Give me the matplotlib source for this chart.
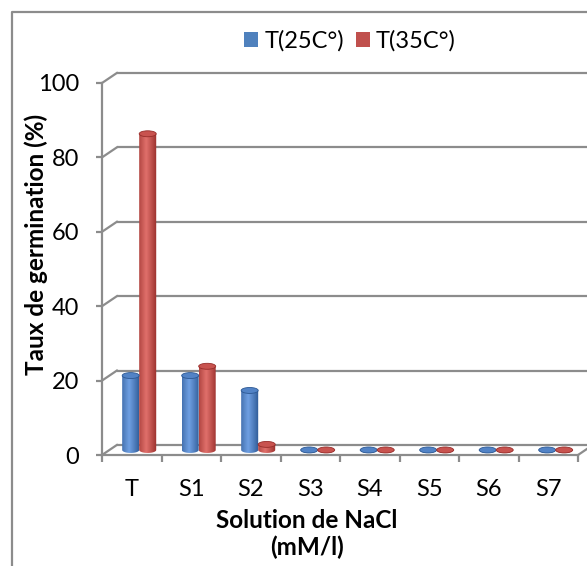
import matplotlib
matplotlib.use("Agg")
import matplotlib.pyplot as plt
import numpy as np
from matplotlib.patches import Ellipse, Polygon, Patch
from matplotlib.lines import Line2D
from matplotlib.colors import to_rgb

plt.rcParams['font.family'] = ['Lato', 'DejaVu Sans']

categories = ['T', 'S1', 'S2', 'S3', 'S4', 'S5', 'S6', 'S7']
t25 = [20, 20, 16, 0, 0, 0, 0, 0]
t35 = [85, 22.5, 1.5, 0, 0, 0, 0, 0]
series_names = ['T(25C°)', 'T(35C°)']
yticks = [0, 20, 40, 60, 80, 100]

W, H = 587, 566
fig = plt.figure(figsize=(W / 100, H / 100), dpi=100)
# front plot frame in pixels: x 102..578, y 455..83
ax = fig.add_axes([102 / W, (H - 455) / H, 476 / W, 372 / H])

grey = '#8c8c8c'
dx, dy = 0.25, 2.7          # depth offset of the back wall (data units)
bw = 0.286                  # cylinder width
eh = 1.6                    # ellipse height

# back wall gridlines + side wall diagonals
for v in yticks:
    ax.plot([dx, len(categories) + dx], [v + dy, v + dy], color=grey, lw=1.6,
            clip_on=False, zorder=1, solid_capstyle='butt')
    ax.plot([0, dx], [v, v + dy], color=grey, lw=1.6, clip_on=False, zorder=1)
ax.plot([len(categories), len(categories) + dx], [0, dy], color=grey, lw=1.6,
        clip_on=False, zorder=1)


def grad(dark, light, n=48):
    dark, light = np.array(to_rgb(dark)), np.array(to_rgb(light))
    t = np.linspace(0, 1, n)
    k = np.clip(1 - np.abs(t - 0.4) / 0.6, 0, 1) ** 0.9
    return (dark + (light - dark) * k[:, None])[None, :, :]


def cylinder(xc, h, dark, light, top):
    base = dy / 2
    xl, xr = xc - bw / 2, xc + bw / 2
    y1 = base + h
    th = np.linspace(np.pi, 2 * np.pi, 40)
    verts = [(xl, y1)] + list(zip(xc + bw / 2 * np.cos(th), base + eh / 2 * np.sin(th))) + [(xr, y1)]
    im = ax.imshow(grad(dark, light), extent=[xl, xr, base - eh / 2, y1],
                   aspect='auto', interpolation='bilinear', zorder=3)
    im.set_clip_path(Polygon(verts, closed=True, transform=ax.transData))
    ax.add_patch(Ellipse((xc, y1), bw, eh, facecolor=top, edgecolor=dark,
                         lw=0.6, zorder=4))


x = np.arange(len(categories)) + 0.5 + dx / 2
for i in range(len(categories)):
    cylinder(x[i] - bw / 2, t25[i], '#2c5893', '#6f9fe2', '#5283c6')
    cylinder(x[i] + bw / 2, t35[i], '#972d2a', '#e0706b', '#c8534f')

ax.set_xlim(0, len(categories))
ax.set_ylim(0, 100)

for s in ['top', 'right']:
    ax.spines[s].set_visible(False)
for s in ['left', 'bottom']:
    ax.spines[s].set_color(grey)
    ax.spines[s].set_linewidth(1.6)
ax.set_facecolor('none')

ax.set_yticks(yticks)
ax.tick_params(axis='y', length=4.5, width=1.6, color=grey, pad=12, labelsize=17)
ax.set_xticks(np.arange(len(categories)) + 0.5)
ax.set_xticklabels(categories)
ax.set_xticks(np.arange(len(categories) + 1), minor=True)
ax.tick_params(axis='x', which='major', length=0, pad=17, labelsize=17)
ax.tick_params(axis='x', which='minor', length=5, width=1.6, color=grey)

fig.text(36 / W, 1 - 244 / H, 'Taux de germination (%)', rotation=90,
         ha='center', va='center', fontsize=17.5, fontweight='bold')
fig.text(307 / W, 1 - 534 / H, 'Solution de NaCl\n(mM/l)', ha='center',
         va='center', fontsize=17.5, fontweight='bold', linespacing=1.15)

handles = [Patch(facecolor='#4f81bd'), Patch(facecolor='#c0504d')]
fig.legend(handles, series_names, loc='center', bbox_to_anchor=(350 / W, 1 - 41 / H),
           ncol=2, frameon=False, fontsize=17, handlelength=0.6, handleheight=0.6,
           handletextpad=0.25, columnspacing=0.5)

# outer chart border (cropped at right and bottom)
fig.add_artist(Line2D([12 / W, 12 / W, 1], [0, 1 - 12 / H, 1 - 12 / H],
                      transform=fig.transFigure, color=grey, lw=1.6))

fig.savefig('out.png', dpi=100)
